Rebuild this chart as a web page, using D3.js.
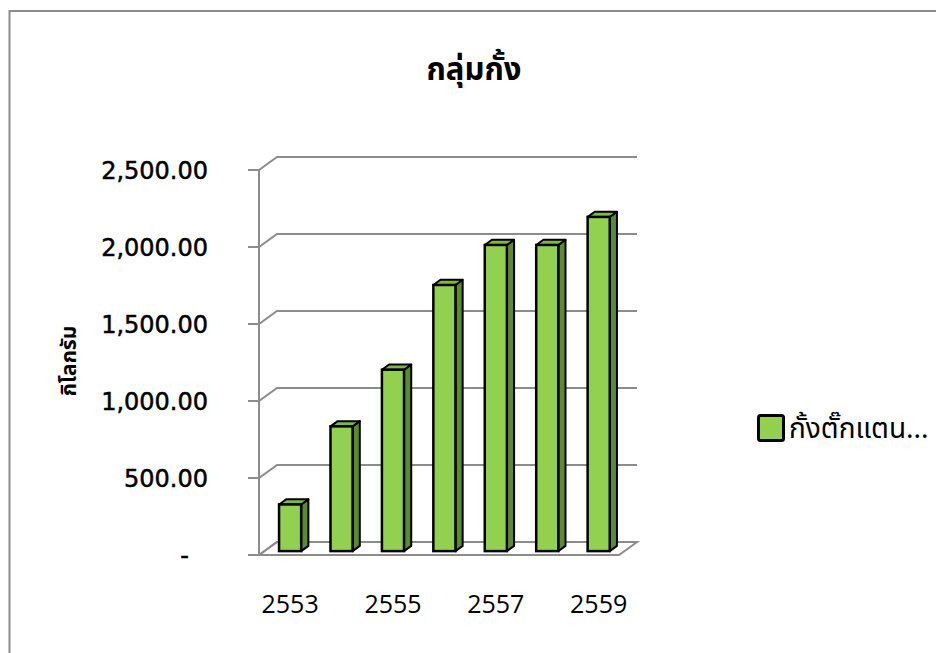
<!DOCTYPE html>
<html>
<head>
<meta charset="utf-8">
<script src="https://cdn.jsdelivr.net/npm/d3@7"></script>
<style>
  body { margin: 0; background: #fff; }
  svg text { font-family: "Noto Sans Thai", "Tahoma", "Noto Sans", "DejaVu Sans", sans-serif; fill: #000; }
</style>
</head>
<body>
<div id="chart"></div>
<script>
// ข้อมูลกราฟ
const years = ['2553', '2554', '2555', '2556', '2557', '2558', '2559'];
const values = [303, 810, 1178, 1728, 1988, 1988, 2170];
const yTicks = [0, 500, 1000, 1500, 2000, 2500];
const seriesName = 'กั้งตั๊กแตน...';
const chartTitle = 'กลุ่มกั้ง';
const yTitle = 'กิโลกรัม';

const width = 936, height = 653;
// ความลึกแบบ 3 มิติ
const depthX = 18, depthY = -13;

const svg = d3.select('#chart')
    .append('svg')
    .attr('width', width)
    .attr('height', height);

// กรอบแผนภูมิ
svg.append('rect')
    .attr('x', 9.5).attr('y', 11)
    .attr('width', 940).attr('height', 660)
    .attr('fill', '#fff')
    .attr('stroke', '#8c8c8c')
    .attr('stroke-width', 2);

const x = d3.scaleBand()
    .domain(years)
    .range([259, 619])
    .paddingInner(0.57)
    .paddingOuter(0.285);

const y = d3.scaleLinear()
    .domain([0, 2500])
    .range([555, 170]);

const gridColor = '#8c8c8c';
const xLeft = x.range()[0], xRight = x.range()[1];

// เส้นกริดและผนัง
const grid = svg.append('g');
yTicks.forEach(t => {
    const yf = y(t);
    grid.append('polyline')
        .attr('points', [[xLeft - 11, yf], [xLeft, yf], [xLeft + depthX, yf + depthY],
            [xRight + depthX, yf + depthY]].map(p => p.join(',')).join(' '))
        .attr('fill', 'none')
        .attr('stroke', gridColor)
        .attr('stroke-width', 2);
});
grid.append('line')
    .attr('x1', xLeft).attr('x2', xLeft)
    .attr('y1', y(2500)).attr('y2', y(0))
    .attr('stroke', gridColor).attr('stroke-width', 2);

// พื้น
grid.append('polygon')
    .attr('points', [[xLeft, y(0)], [xRight, y(0)], [xRight + depthX, y(0) + depthY],
        [xLeft + depthX, y(0) + depthY]].map(p => p.join(',')).join(' '))
    .attr('fill', 'none')
    .attr('stroke', gridColor)
    .attr('stroke-width', 2);

// แท่งกราฟ
const f0 = 0.3, f1 = 0.7;
const ox = depthX * f0, oy = depthY * f0;
const sx = depthX * (f1 - f0), sy = depthY * (f1 - f0);

const bars = svg.append('g')
    .selectAll('g')
    .data(years.map((d, i) => ({ year: d, value: values[i] })))
    .join('g');

bars.each(function (d) {
    const g = d3.select(this);
    const x0 = x(d.year) + ox, x1 = x0 + x.bandwidth();
    const yt = y(d.value) + oy, yb = y(0) + oy;
    const pts = arr => arr.map(p => p.join(',')).join(' ');
    g.append('polygon')
        .attr('points', pts([[x1, yt], [x1 + sx, yt + sy], [x1 + sx, yb + sy], [x1, yb]]))
        .attr('fill', '#5e8a2e')
        .attr('stroke', '#000').attr('stroke-width', 2).attr('stroke-linejoin', 'round');
    g.append('polygon')
        .attr('points', pts([[x0, yt], [x0 + sx, yt + sy], [x1 + sx, yt + sy], [x1, yt]]))
        .attr('fill', '#7fb843')
        .attr('stroke', '#000').attr('stroke-width', 2).attr('stroke-linejoin', 'round');
    g.append('rect')
        .attr('x', x0).attr('y', yt)
        .attr('width', x1 - x0).attr('height', yb - yt)
        .attr('fill', '#92d050')
        .attr('stroke', '#000').attr('stroke-width', 2.5);
});

// ป้ายแกน Y
svg.append('g')
    .selectAll('text')
    .data(yTicks)
    .join('text')
    .attr('x', d => d === 0 ? 189 : 208)
    .attr('y', d => y(d))
    .attr('dy', '0.36em')
    .attr('text-anchor', 'end')
    .style('font-family', '"DejaVu Sans", sans-serif')
    .style('font-size', '24px')
    .style('stroke', '#000')
    .style('stroke-width', '0.5px')
    .text(d => d === 0 ? '-' : d3.format(',.2f')(d));

// ป้ายแกน X (ทุก ๆ สองปี)
svg.append('g')
    .selectAll('text')
    .data(years.filter((d, i) => i % 2 === 0))
    .join('text')
    .attr('x', d => x(d) + ox + x.bandwidth() / 2)
    .attr('y', 613)
    .attr('text-anchor', 'middle')
    .style('font-family', '"Open Sans", sans-serif')
    .style('font-size', '25px')
    .text(d => d);

// ชื่อแกน Y
svg.append('text')
    .attr('transform', 'translate(76,361) rotate(-90)')
    .attr('text-anchor', 'middle')
    .style('font-size', '21px')
    .style('font-weight', 'bold')
    .text(yTitle);

// ชื่อแผนภูมิ
svg.append('text')
    .attr('x', 474)
    .attr('y', 80)
    .attr('text-anchor', 'middle')
    .style('font-size', '31px')
    .style('font-weight', 'bold')
    .text(chartTitle);

// คำอธิบาย
svg.append('rect')
    .attr('x', 758.5).attr('y', 415.5)
    .attr('width', 25).attr('height', 25)
    .attr('rx', 2)
    .attr('fill', '#92d050')
    .attr('stroke', '#000').attr('stroke-width', 3);
svg.append('text')
    .attr('x', 789)
    .attr('y', 438)
    .style('font-size', '28px')
    .text(seriesName);
</script>
</body>
</html>
